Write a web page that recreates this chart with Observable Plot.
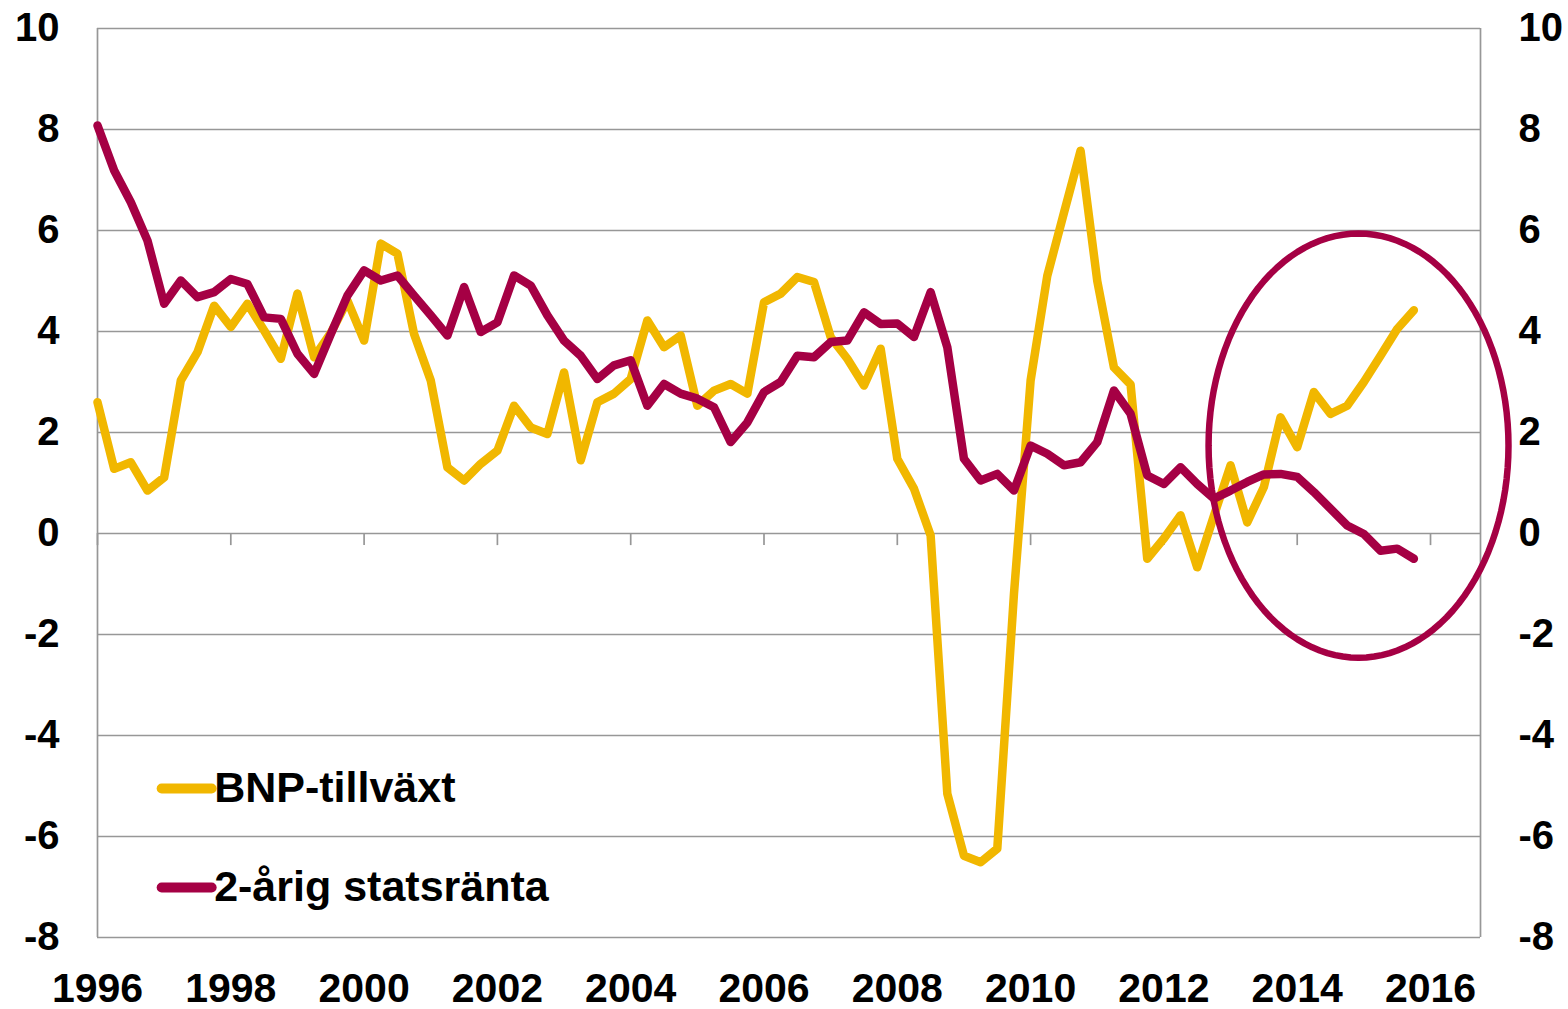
<!DOCTYPE html>
<html>
<head>
<meta charset="utf-8">
<script src="https://cdn.jsdelivr.net/npm/d3@7"></script>
<script src="https://cdn.jsdelivr.net/npm/@observablehq/plot@0.6"></script>
<style>
  html, body { margin: 0; padding: 0; background: #fff; }
  svg { display: block; }
</style>
</head>
<body>
<div id="chart"></div>
<script>
// ---- Data (quarterly, starting 1996 Q1) ----
const startYear = 1996;
const seriesNames = ["BNP-tillväxt", "2-årig statsränta"];
const seriesColors = ["#F1B700", "#A50044"];

const bnp = [
  2.60, 1.28, 1.41, 0.85, 1.11, 3.03, 3.59, 4.51, 4.09, 4.55,
  4.02, 3.46, 4.75, 3.49, 3.97, 4.61, 3.82, 5.74, 5.54, 3.95,
  3.03, 1.31, 1.05, 1.38, 1.64, 2.53, 2.10, 1.97, 3.19, 1.45,
  2.60, 2.77, 3.06, 4.22, 3.69, 3.92, 2.53, 2.83, 2.96, 2.77,
  4.58, 4.75, 5.08, 4.98, 3.89, 3.46, 2.93, 3.66, 1.48, 0.89,
  -0.04, -5.15, -6.38, -6.51, -6.24, -1.20, 3.03, 5.10, 6.35, 7.58,
  5.00, 3.29, 2.95, -0.50, -0.10, 0.36, -0.67, 0.35, 1.35, 0.22,
  0.92, 2.30, 1.71, 2.80, 2.37, 2.53, 3.00, 3.52, 4.05, 4.42
];

const rate = [
  8.08, 7.19, 6.56, 5.80, 4.55, 5.01, 4.68, 4.78, 5.04, 4.94,
  4.28, 4.25, 3.56, 3.16, 3.95, 4.71, 5.21, 5.01, 5.11, 4.71,
  4.32, 3.92, 4.88, 3.99, 4.18, 5.11, 4.91, 4.32, 3.82, 3.52,
  3.06, 3.33, 3.43, 2.53, 2.96, 2.77, 2.67, 2.50, 1.81, 2.20,
  2.80, 3.00, 3.52, 3.49, 3.79, 3.82, 4.38, 4.15, 4.16, 3.89,
  4.78, 3.69, 1.48, 1.05, 1.18, 0.85, 1.74, 1.58, 1.35, 1.41,
  1.81, 2.83, 2.37, 1.15, 0.98, 1.31, 0.98, 0.69, 0.85, 1.02,
  1.17, 1.18, 1.12, 0.82, 0.49, 0.16, -0.01, -0.34, -0.30, -0.50
];

const yTicks = [-8, -6, -4, -2, 0, 2, 4, 6, 8, 10];
const xTicks = [1996, 1998, 2000, 2002, 2004, 2006, 2008, 2010, 2012, 2014, 2016];
const xDomain = [1996, 2016.75];
const yDomain = [-8, 10];

// Annotation ellipse (data coordinates)
const ellipseCenter = [2014.92, 1.74];
const ellipseRadii = [2.25, 4.2];

// ---- Build tables ----
const toRows = (vals) => vals.map((v, i) => ({ x: startYear + i / 4, y: v }));
const bnpRows = toRows(bnp);
const rateRows = toRows(rate);

const ellipsePts = d3.range(0, 361, 3).map(a => {
  const r = a * Math.PI / 180;
  return { x: ellipseCenter[0] + ellipseRadii[0] * Math.cos(r), y: ellipseCenter[1] + ellipseRadii[1] * Math.sin(r) };
});

const legendRows = [
  { name: seriesNames[0], color: seriesColors[0], y: -5.05 },
  { name: seriesNames[1], color: seriesColors[1], y: -7.01 }
];

const gray = "#979797";
const font = "'Liberation Sans', Arial, Helvetica, sans-serif";

const chart = Plot.plot({
  width: 1568,
  height: 1009,
  marginLeft: 97,
  marginRight: 88,
  marginTop: 28,
  marginBottom: 72,
  x: { domain: xDomain },
  y: { domain: yDomain },
  style: { fontFamily: font, fontWeight: "bold", fontSize: "40px", color: "#000", background: "#fff", overflow: "visible" },
  marks: [
    Plot.gridY(yTicks, { stroke: gray, strokeOpacity: 1, strokeWidth: 1.7 }),
    Plot.ruleX(xDomain, { stroke: gray, strokeWidth: 1.7 }),
    Plot.ruleX(xTicks, { y1: 0, y2: -0.24, stroke: gray, strokeWidth: 1.7 }),
    Plot.axisY(yTicks, { anchor: "left", tickSize: 0, tickPadding: 38, tickFormat: d => String(d), label: null, fontSize: 40, fontWeight: "bold" }),
    Plot.axisY(yTicks, { anchor: "right", tickSize: 0, tickPadding: 38, tickFormat: d => String(d), label: null, fontSize: 40, fontWeight: "bold" }),
    Plot.axisX(xTicks, { anchor: "bottom", tickSize: 0, tickPadding: 35, tickFormat: d => String(d), label: null, fontSize: 41, fontWeight: "bold" }),
    Plot.line(bnpRows, { x: "x", y: "y", stroke: seriesColors[0], strokeWidth: 8.5, strokeLinejoin: "round", strokeLinecap: "round" }),
    Plot.line(rateRows, { x: "x", y: "y", stroke: seriesColors[1], strokeWidth: 8.5, strokeLinejoin: "round", strokeLinecap: "round" }),
    Plot.line(ellipsePts, { x: "x", y: "y", stroke: seriesColors[1], strokeWidth: 6.5, curve: "linear-closed" }),
    Plot.ruleY(legendRows, { y: "y", x1: 1996.97, x2: 1997.72, stroke: "color", strokeWidth: 10, strokeLinecap: "round" }),
    Plot.text(legendRows, { x: 1997.75, y: "y", text: "name", textAnchor: "start", fontSize: 43, fontWeight: "bold", fill: "#000" })
  ]
});

document.getElementById("chart").appendChild(chart);
</script>
</body>
</html>
